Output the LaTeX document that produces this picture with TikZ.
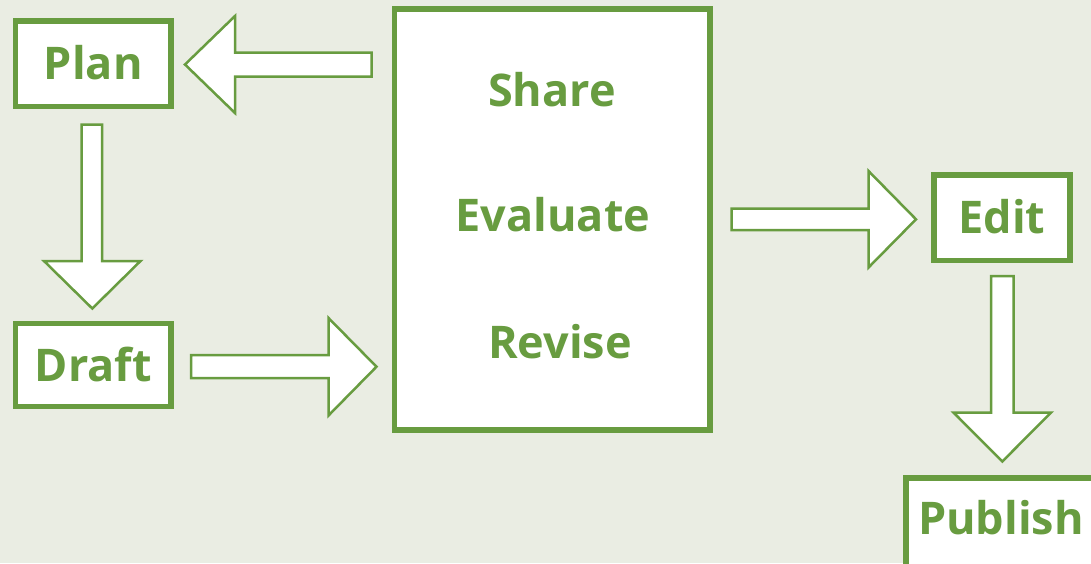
\documentclass[tikz,border=0pt]{standalone}
\usepackage{fontspec}
\setmainfont{Open Sans}
\definecolor{leaf}{RGB}{104,156,64}
\definecolor{paper}{RGB}{234,237,227}
\tikzset{
  boxline/.style={draw=leaf, line width=5.5pt, fill=white},
  stepbox/.style={boxline, rectangle, inner sep=0pt, font=\fontsize{45}{50}\selectfont\bfseries, text=leaf, text height=32pt, text depth=0pt},
  word/.style={inner sep=0pt, font=\fontsize{45}{50}\selectfont\bfseries, text=leaf, text height=32pt, text depth=0pt},
  blockarrow/.style={draw=leaf, line width=2.5pt, fill=white, line join=miter}
}
\begin{document}
\begin{tikzpicture}[x=1pt,y=-1pt]
\fill[paper] (0,0) rectangle (1091,563);
\useasboundingbox (0,0) rectangle (1091,563);
\begin{scope}
\clip (0,0) rectangle (1091,563);
% boxes
\node[stepbox, minimum width=155.5pt, minimum height=85.5pt] (plan) at (93.25,63.75) {Plan};
\node[stepbox, minimum width=155.5pt, minimum height=83pt] (draft) at (93.25,365) {Draft};
\node[boxline, rectangle, inner sep=0pt, minimum width=315.5pt, minimum height=421pt] (big) at (552.25,219.5) {};
\node[word] (share) at (552,90) {Share};
\node[word] (evaluate) at (553,215) {Evaluate};
\node[word] (revise) at (560,342) {Revise};
\node[stepbox, minimum width=136pt, minimum height=85.5pt] (edit) at (1002,217.75) {Edit};
\draw[boxline] (906,478) rectangle (1120,600);
\node[word] (publish) at (1001,518) {Publish};
% block arrows
\draw[blockarrow] (371.5,52.5) -- (235,52.5) -- (235,16) -- (185,64.5) -- (235,113) -- (235,76.5) -- (371.5,76.5) -- cycle;
\draw[blockarrow] (81.5,124.5) -- (102,124.5) -- (102,261) -- (140.5,261) -- (92.3,308.5) -- (44,261) -- (81.5,261) -- cycle;
\draw[blockarrow] (191,355) -- (328.5,355) -- (328.5,318) -- (376.5,366.7) -- (328.5,415.5) -- (328.5,378) -- (191,378) -- cycle;
\draw[blockarrow] (731.5,208.5) -- (868.5,208.5) -- (868.5,171) -- (916,219.3) -- (868.5,267.5) -- (868.5,230) -- (731.5,230) -- cycle;
\draw[blockarrow] (991,276) -- (1013.5,276) -- (1013.5,412.5) -- (1051,412.5) -- (1002.3,461.5) -- (953.5,412.5) -- (991,412.5) -- cycle;
\end{scope}
\end{tikzpicture}
\end{document}
